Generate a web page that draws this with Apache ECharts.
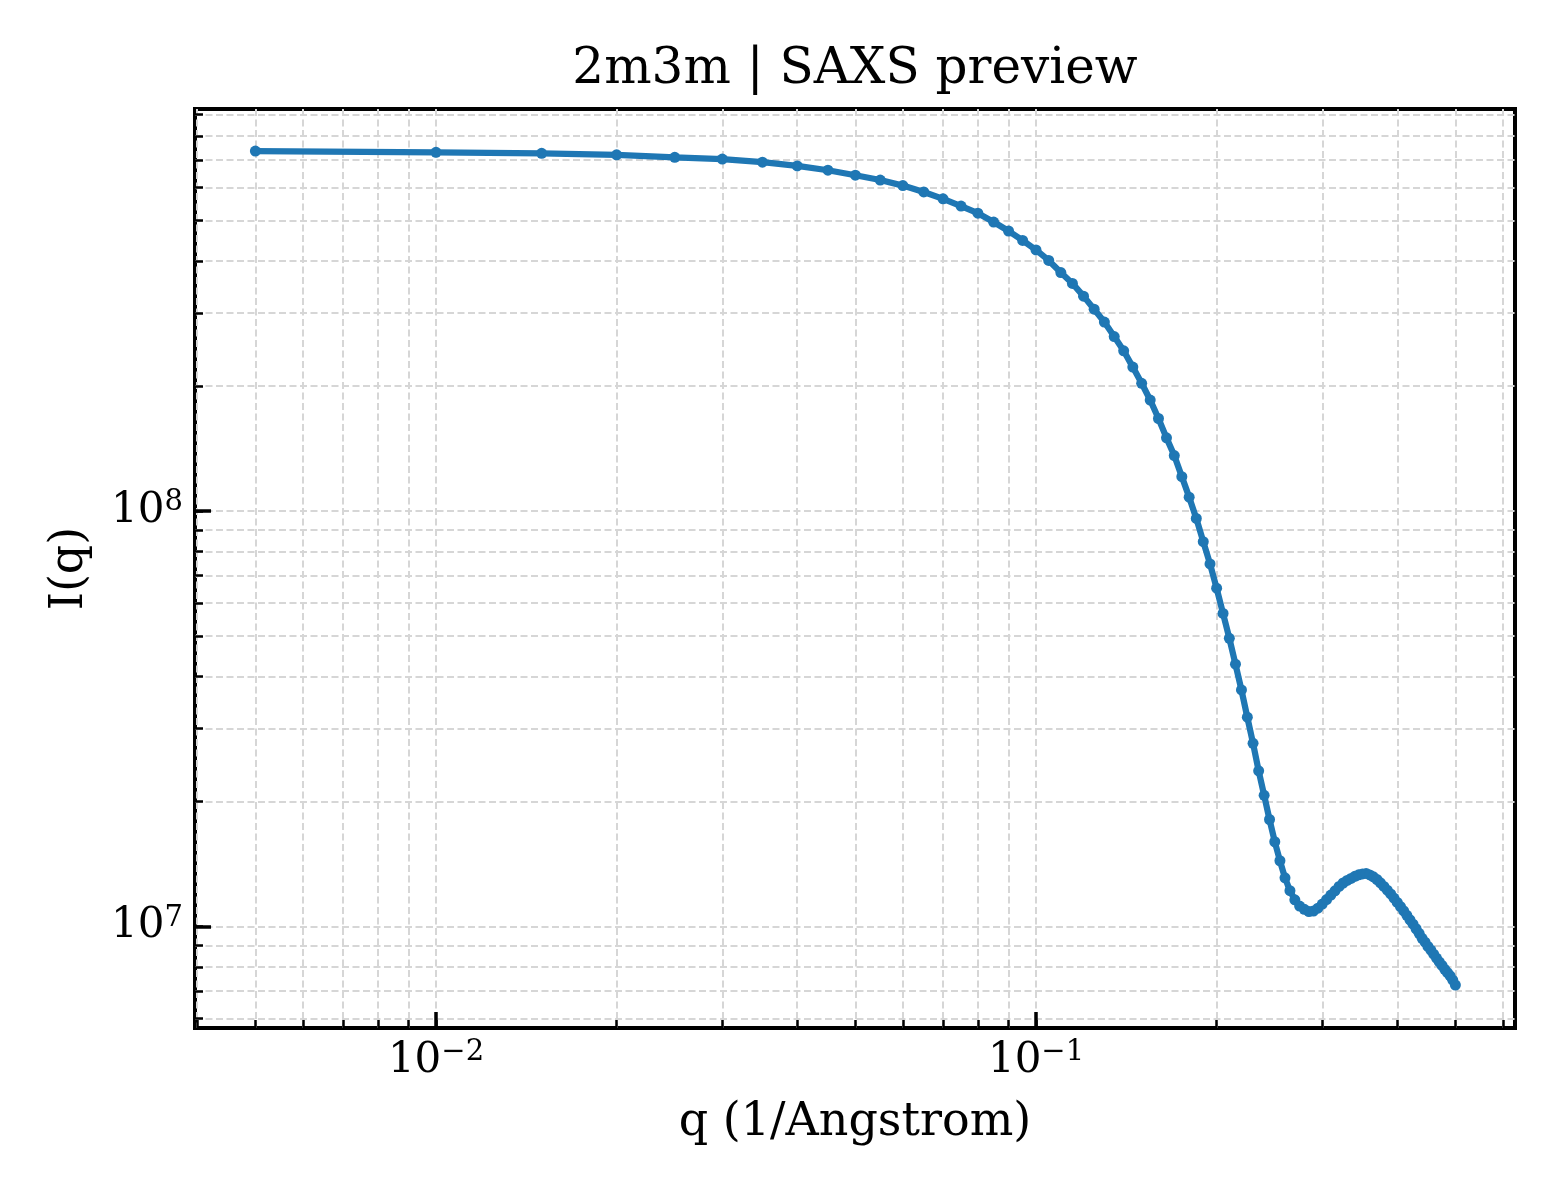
<!DOCTYPE html>
<html>
<head>
<meta charset="utf-8">
<title>2m3m | SAXS preview</title>
<script src="https://cdn.jsdelivr.net/npm/echarts@6.0.0/dist/echarts.min.js"></script>
<style>
  html, body { margin: 0; padding: 0; background: #fff; }
  #saxsChart { width: 1560px; height: 1200px; }
</style>
</head>
<body>
<div id="saxsChart"></div>
<script>
// q in 1/Angstrom
const qValues = [
    0.005, 0.010, 0.015, 0.020, 0.025, 0.030, 0.035, 0.040, 0.045, 0.050,
    0.055, 0.060, 0.065, 0.070, 0.075, 0.080, 0.085, 0.090, 0.095, 0.100,
    0.105, 0.110, 0.115, 0.120, 0.125, 0.130, 0.135, 0.140, 0.145, 0.150,
    0.155, 0.160, 0.165, 0.170, 0.175, 0.180, 0.185, 0.190, 0.195, 0.200,
    0.205, 0.210, 0.215, 0.220, 0.225, 0.230, 0.235, 0.240, 0.245, 0.250,
    0.255, 0.260, 0.265, 0.270, 0.275, 0.280, 0.285, 0.290, 0.295, 0.300,
    0.305, 0.310, 0.315, 0.320, 0.325, 0.330, 0.335, 0.340, 0.345, 0.350,
    0.355, 0.360, 0.365, 0.370, 0.375, 0.380, 0.385, 0.390, 0.395, 0.400,
    0.405, 0.410, 0.415, 0.420, 0.425, 0.430, 0.435, 0.440, 0.445, 0.450,
    0.455, 0.460, 0.465, 0.470, 0.475, 0.480, 0.485, 0.490, 0.495, 0.500
];

// I(q)
const intensity = [
    7.35e8, 7.30e8, 7.26e8, 7.20e8, 7.10e8, 7.03e8, 6.91e8, 6.77e8, 6.61e8, 6.43e8,
    6.26e8, 6.07e8, 5.86e8, 5.64e8, 5.42e8, 5.21e8, 4.96e8, 4.72e8, 4.48e8, 4.25e8,
    4.01e8, 3.75e8, 3.53e8, 3.29e8, 3.06e8, 2.85e8, 2.63e8, 2.43e8, 2.22e8, 2.03e8,
    1.85e8, 1.67e8, 1.50e8, 1.36e8, 1.21e8, 1.08e8, 9.60e7, 8.44e7, 7.46e7, 6.52e7,
    5.67e7, 4.94e7, 4.28e7, 3.71e7, 3.19e7, 2.76e7, 2.37e7, 2.07e7, 1.81e7, 1.60e7,
    1.44e7, 1.31e7, 1.22e7, 1.16e7, 1.12e7, 1.10e7, 1.087e7, 1.090e7, 1.107e7, 1.133e7,
    1.161e7, 1.191e7, 1.219e7, 1.249e7, 1.273e7, 1.291e7, 1.306e7, 1.321e7, 1.332e7, 1.339e7,
    1.342e7, 1.331e7, 1.317e7, 1.298e7, 1.274e7, 1.249e7, 1.223e7, 1.198e7, 1.171e7, 1.143e7,
    1.117e7, 1.091e7, 1.064e7, 1.038e7, 1.013e7, 9.88e6, 9.63e6, 9.37e6, 9.17e6, 8.96e6,
    8.78e6, 8.58e6, 8.40e6, 8.22e6, 8.06e6, 7.89e6, 7.75e6, 7.61e6, 7.43e6, 7.23e6
];

// tick positions
const xMajorTicks = [0.01, 0.1];
const xMinorTicks = [0.004, 0.005, 0.006, 0.007, 0.008, 0.009,
    0.02, 0.03, 0.04, 0.05, 0.06, 0.07, 0.08, 0.09,
    0.2, 0.3, 0.4, 0.5, 0.6];
const yMajorTicks = [1e7, 1e8];
const yMinorTicks = [6e6, 7e6, 8e6, 9e6,
    2e7, 3e7, 4e7, 5e7, 6e7, 7e7, 8e7, 9e7,
    2e8, 3e8, 4e8, 5e8, 6e8, 7e8, 8e8, 9e8];

const xRange = [0.003966, 0.6285];
const yRange = [5.70e6, 9.28e8];

const FONT = "'DejaVu Serif', 'Liberation Serif', serif";

const chartDom = document.getElementById('saxsChart');
const saxsChart = echarts.init(chartDom, null, { renderer: 'canvas' });

// 10^n with a raised exponent
const powLabel = (v) => {
    const e = Math.round(Math.log10(v));
    return '{b|10}{s|' + (e < 0 ? '\u2212' + (-e) : e) + '}';
};
const labelRich = {
    b: { fontFamily: FONT, fontSize: 42, color: '#000', lineHeight: 46 },
    s: { fontFamily: FONT, fontSize: 29, color: '#000', verticalAlign: 'top', lineHeight: 32 }
};

const gridLine = {
    show: true,
    lineStyle: { color: '#d6d6d6', width: 2, type: [7, 3.5] }
};

const allX = xMinorTicks.concat(xMajorTicks);
const allY = yMinorTicks.concat(yMajorTicks);

const options = {
    animation: false,
    backgroundColor: '#fff',
    grid: {
        left: 195, top: 109, right: 45, bottom: 172,
        show: true,
        borderColor: '#000',
        borderWidth: 4,
        backgroundColor: 'transparent'
    },
    graphic: [{
        type: 'text',
        x: 855,
        y: 70,
        style: {
            text: '2m3m | SAXS preview',
            fontFamily: FONT,
            fontSize: 50,
            fill: '#000',
            textAlign: 'center',
            textVerticalAlign: 'middle'
        }
    }],
    xAxis: [{
        // minor ticks + grid lines
        type: 'log',
        logBase: 10,
        min: xRange[0],
        max: xRange[1],
        position: 'bottom',
        axisLine: { show: false },
        axisTick: {
            show: true, inside: true, length: 8,
            customValues: allX,
            lineStyle: { color: '#000', width: 2.5 }
        },
        axisLabel: { show: false },
        splitLine: gridLine
    }, {
        // major ticks + labels
        type: 'log',
        logBase: 10,
        min: xRange[0],
        max: xRange[1],
        position: 'bottom',
        offset: 0,
        axisLine: { show: false },
        axisTick: {
            show: true, inside: true, length: 16,
            customValues: xMajorTicks,
            lineStyle: { color: '#000', width: 3.5 }
        },
        axisLabel: {
            show: true,
            margin: 10,
            customValues: xMajorTicks,
            formatter: powLabel,
            rich: labelRich
        },
        splitLine: { show: false },
        name: 'q (1/Angstrom)',
        nameLocation: 'middle',
        nameGap: 95,
        nameTextStyle: {
            fontFamily: FONT, fontSize: 46, color: '#000', verticalAlign: 'middle'
        }
    }],
    yAxis: [{
        type: 'log',
        logBase: 10,
        min: yRange[0],
        max: yRange[1],
        position: 'left',
        axisLine: { show: false },
        axisTick: {
            show: true, inside: true, length: 8,
            customValues: allY,
            lineStyle: { color: '#000', width: 2.5 }
        },
        axisLabel: { show: false },
        splitLine: gridLine
    }, {
        type: 'log',
        logBase: 10,
        min: yRange[0],
        max: yRange[1],
        position: 'left',
        offset: 0,
        axisLine: { show: false },
        axisTick: {
            show: true, inside: true, length: 16,
            customValues: yMajorTicks,
            lineStyle: { color: '#000', width: 3.5 }
        },
        axisLabel: {
            show: true,
            margin: 12,
            customValues: yMajorTicks,
            formatter: powLabel,
            rich: labelRich
        },
        splitLine: { show: false },
        name: 'I(q)',
        nameLocation: 'middle',
        nameGap: 125,
        nameRotate: 90,
        nameTextStyle: {
            fontFamily: FONT, fontSize: 46, color: '#000', verticalAlign: 'middle'
        }
    }],
    series: [{
        name: '2m3m',
        type: 'line',
        xAxisIndex: 0,
        yAxisIndex: 0,
        data: qValues.map((q, i) => [q, intensity[i]]),
        showSymbol: true,
        showAllSymbol: true,
        symbol: 'circle',
        symbolSize: 11,
        itemStyle: { color: '#1f77b4' },
        lineStyle: { color: '#1f77b4', width: 6.25 },
        z: 5
    }]
};

saxsChart.setOption(options);
</script>
</body>
</html>
